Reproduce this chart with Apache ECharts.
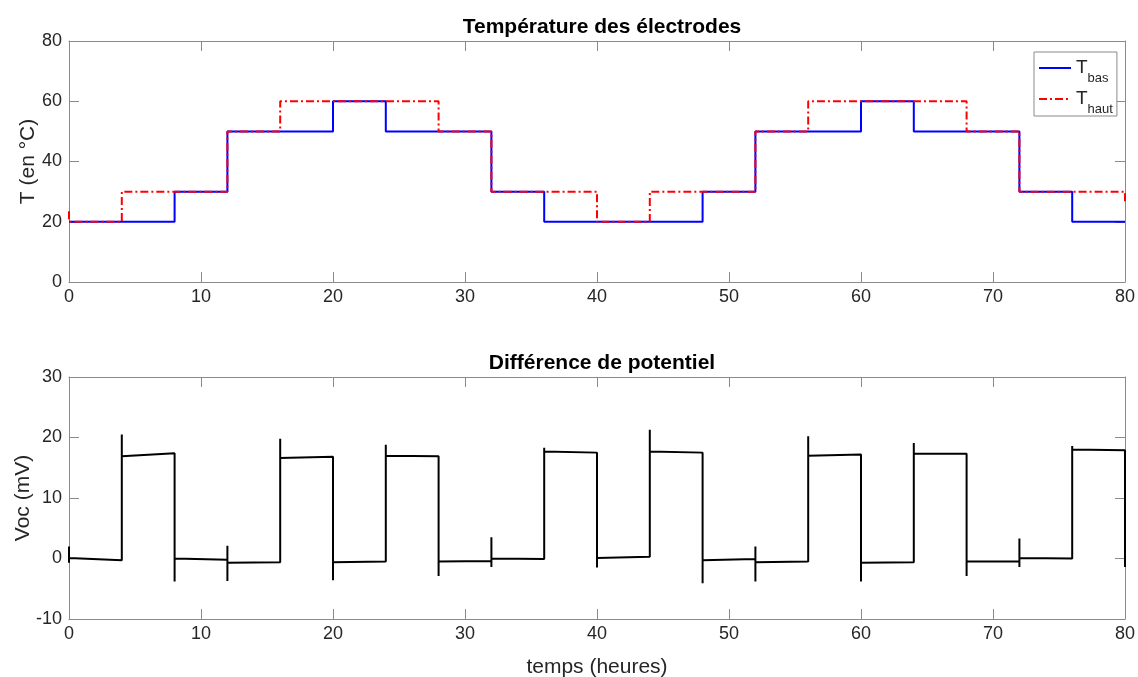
<!DOCTYPE html>
<html>
<head>
<meta charset="utf-8">
<script src="https://cdn.jsdelivr.net/npm/echarts@6/dist/echarts.min.js"></script>
<style>html,body{margin:0;padding:0;background:#fff}#c{width:1138px;height:677px}</style>
</head>
<body>
<div id="c"></div>
<script>
// ---- data ----
const transitionTimes = [0,4,8,12,16,20,24,28,32,36,40,44,48,52,56,60,64,68,72,76,80];
// temperature levels for each 4 h segment
const tBasLevels  = [20,20,30,50,50,60,50,50,30,20,20,20,30,50,50,60,50,50,30,20];
const tHautLevels = [20,30,30,50,60,60,60,50,30,30,20,30,30,50,60,60,60,50,30,30];
// values at the very first and very last instant (edge spikes)
const tBasEdges  = [20, 20];
const tHautEdges = [23.5, 26];
// Voc: value at start and end of each segment
const vocSegStart = [0.1,16.9,0.0,-0.7,16.6,-0.6,17.0,-0.5,0.0,17.7,0.1,17.7,-0.3,-0.6,17.0,-0.7,17.3,-0.5,0.1,18.0];
const vocSegEnd   = [-0.3,17.4,-0.2,-0.6,16.8,-0.5,16.9,-0.4,-0.1,17.5,0.3,17.5,-0.1,-0.5,17.2,-0.6,17.3,-0.5,0.0,17.9];
// spike max / min at each transition
const vocSpikeMax = [2.0,20.5,17.4,2.1,19.8,16.8,18.8,16.9,3.5,18.3,17.5,21.3,17.5,2.0,20.2,17.2,19.1,17.3,3.3,18.6,17.9];
const vocSpikeMin = [-0.7,-0.3,-3.8,-3.7,-0.6,-3.6,-0.5,-2.9,-1.4,-0.1,-1.5,0.3,-4.1,-3.8,-0.5,-3.8,-0.6,-2.9,-1.4,0.0,-1.4];

// ---- build series points ----
function stepSeries(levels, edges) {
  const n = transitionTimes.length;
  const pts = [[transitionTimes[0], edges[0]]];
  for (let k = 0; k < levels.length; k++) {
    pts.push([transitionTimes[k], levels[k]]);
    pts.push([transitionTimes[k + 1], levels[k]]);
  }
  pts.push([transitionTimes[n - 1], edges[1]]);
  return pts;
}
function vocSeries() {
  const pts = [];
  for (let k = 0; k < transitionTimes.length; k++) {
    const t = transitionTimes[k];
    if (k > 0) pts.push([t, vocSegEnd[k-1]]);
    const prev = k > 0 ? vocSegEnd[k-1] : 0;
    const next = k < vocSegStart.length ? vocSegStart[k] : vocSpikeMin[k];
    if (next >= prev) { pts.push([t, vocSpikeMin[k]]); pts.push([t, vocSpikeMax[k]]); }
    else { pts.push([t, vocSpikeMax[k]]); pts.push([t, vocSpikeMin[k]]); }
    if (k < vocSegStart.length) pts.push([t, vocSegStart[k]]);
  }
  return pts;
}

const FONT = 'Liberation Sans, Arial, Helvetica, sans-serif';
const AXC = '#8a8a8a', TXT = '#262626';

function xAx(grid, pos, show, name) {
  return {
    type: 'value', gridIndex: grid, position: pos, min: 0, max: 80, interval: 10,
    axisLine: { show: true, onZero: false, lineStyle: { color: AXC, width: 1 } },
    axisTick: { show: true, inside: true, length: 10, lineStyle: { color: AXC } },
    axisLabel: { show: show, color: TXT, fontSize: 18, fontFamily: FONT, margin: 6 },
    splitLine: { show: false },
    name: name || '', nameLocation: 'middle', nameGap: 38,
    nameTextStyle: { color: TXT, fontSize: 21, fontFamily: FONT }
  };
}
function yAx(grid, pos, show, min, max, interval, name, gap) {
  return {
    type: 'value', gridIndex: grid, position: pos, min: min, max: max, interval: interval,
    axisLine: { show: true, onZero: false, lineStyle: { color: AXC, width: 1 } },
    axisTick: { show: true, inside: true, length: 10, lineStyle: { color: AXC } },
    axisLabel: { show: show, color: TXT, fontSize: 18, fontFamily: FONT, margin: 7 },
    splitLine: { show: false },
    name: name || '', nameLocation: 'middle', nameGap: gap || 30, nameMoveOverlap: false,
    nameTextStyle: { color: TXT, fontSize: 21, fontFamily: FONT }
  };
}

const chart = echarts.init(document.getElementById('c'), null, { renderer: 'canvas' });
chart.setOption({
  backgroundColor: '#fff',
  animation: false,
  title: [
    { text: 'Température des électrodes', left: 597, top: 12, textAlign: 'center',
      textStyle: { fontSize: 21, fontWeight: 'bold', color: '#000', fontFamily: FONT } },
    { text: 'Différence de potentiel', left: 597, top: 348, textAlign: 'center',
      textStyle: { fontSize: 21, fontWeight: 'bold', color: '#000', fontFamily: FONT } }
  ],
  grid: [
    { left: 69, right: 13, top: 41, height: 241, outerBoundsMode: 'none', containLabel: false },
    { left: 69, right: 13, top: 377, height: 242, outerBoundsMode: 'none', containLabel: false }
  ],
  xAxis: [
    xAx(0, 'bottom', true), xAx(0, 'top', false),
    xAx(1, 'bottom', true, 'temps (heures)'), xAx(1, 'top', false)
  ],
  yAxis: [
    yAx(0, 'left', true, 0, 80, 20, 'T (en °C)', 30), yAx(0, 'right', false, 0, 80, 20),
    yAx(1, 'left', true, -10, 30, 10, 'Voc (mV)', 35), yAx(1, 'right', false, -10, 30, 10)
  ],
  legend: {
    data: ['Tbas', 'Thaut'],
    left: 1034, top: 52, orient: 'vertical',
    itemWidth: 32, itemHeight: 14, itemGap: 4,
    padding: [6, 4, 0, 4],
    borderColor: '#8a8a8a', borderWidth: 1, backgroundColor: '#fff',
    itemStyle: { opacity: 0 },
    formatter: function (n) { return '{a|T}{b|' + n.slice(1) + '}'; },
    textStyle: {
      color: TXT, fontFamily: FONT,
      rich: {
        a: { fontSize: 19, lineHeight: 20, verticalAlign: 'top', fontFamily: FONT, color: TXT },
        b: { fontSize: 13, lineHeight: 14, padding: [14, 0, 0, 0], verticalAlign: 'top', fontFamily: FONT, color: TXT }
      }
    }
  },
  series: [
    { name: 'Tbas', type: 'line', xAxisIndex: 0, yAxisIndex: 0, data: stepSeries(tBasLevels, tBasEdges),
      symbol: 'none', color: '#0000ff', lineStyle: { color: '#0000ff', width: 2 }, z: 2 },
    { name: 'Thaut', type: 'line', xAxisIndex: 0, yAxisIndex: 0, data: stepSeries(tHautLevels, tHautEdges),
      symbol: 'none', color: '#ff0000', lineStyle: { color: '#ff0000', width: 2, type: [8, 3, 2, 3] }, z: 3 },
    { name: 'Voc', type: 'line', xAxisIndex: 2, yAxisIndex: 2, data: vocSeries(),
      symbol: 'none', color: '#000', lineStyle: { color: '#000', width: 2 }, z: 2 }
  ]
});
</script>
</body>
</html>
